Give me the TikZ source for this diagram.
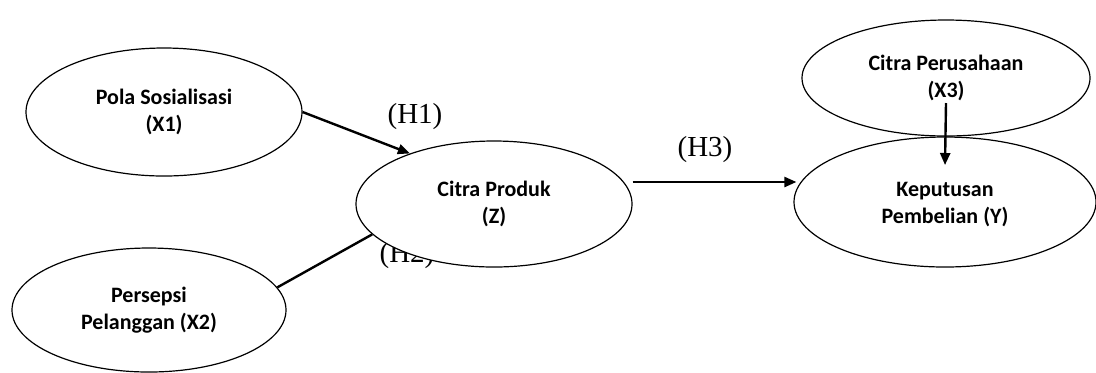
\documentclass[tikz,border=0pt]{standalone}
\usepackage{fontspec}
\setmainfont{Carlito}
\newfontfamily\hfont{Liberation Serif}
\usepackage{tikz}
\usetikzlibrary{shapes.geometric, arrows.meta}

\begin{document}
\begin{tikzpicture}
  [
    x = 0.5pt, y = -0.5pt,
    var/.style = {draw, ellipse, line width=0.6pt, fill=white, inner sep=0pt,
      align=center, font=\fontsize{11}{13.5}\selectfont\bfseries},
    hyp/.style = {font=\hfont\fontsize{14.5}{16}\selectfont, inner sep=0pt},
    arr/.style = {line width=1.2pt, -{Triangle[length=6pt, width=5pt]}},
    link/.style = {line width=1.2pt}
  ]
  \useasboundingbox (0,0) rectangle (1096,372);
  % hypothesis H2 sits behind the Z ellipse
  \node[hyp] (H2) at (407,256) {(H2)};
  \node[var, minimum width=138pt, minimum height=64pt] (X1) at (164,112) {Pola Sosialisasi\\(X1)};
  \node[var, minimum width=137pt, minimum height=62pt] (X2) at (149,310) {Persepsi\\Pelanggan (X2)};
  \node[var, minimum width=138pt, minimum height=63pt] (Z)  at (494,204) {Citra Produk\\(Z)};
  \node[var, minimum width=144pt, minimum height=58pt] (X3) at (946,78)  {Citra Perusahaan\\(X3)};
  \node[var, minimum width=151pt, minimum height=65pt] (Y)  at (945,202) {\strut Keputusan\\Pembelian (Y)};
  \node[hyp] (H1) at (415,117) {(H1)};
  \node[hyp] (H3) at (705,150) {(H3)};

  \draw[arr]  (X1.east) -- (Z.149);
  \draw[link] (X2.10) -- (Z.194);
  \draw[arr]  ([yshift=11pt]Z.east) -- ([yshift=10pt, xshift=1.5pt]Y.west);
  \draw[arr]  ([yshift=-12.5pt]X3.center) -- ([yshift=18.5pt]Y.center);
\end{tikzpicture}
\end{document}
